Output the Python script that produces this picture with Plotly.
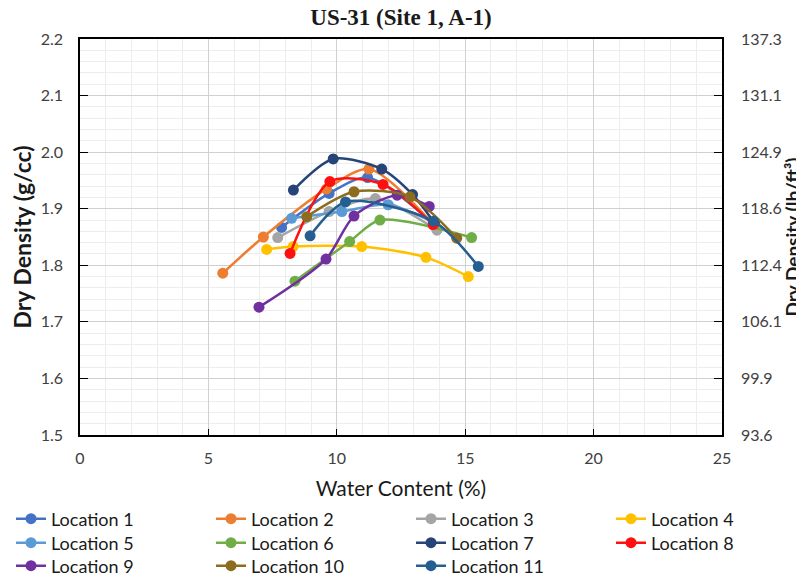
import plotly.graph_objects as go

title = "US-31 (Site 1, A-1)"
x_title = "Water Content (%)"
y_title = "Dry Density (g/cc)"
y2_title = "Dry Density (lb/ft³)"

x_ticks = [0, 5, 10, 15, 20, 25]
y_ticks = [1.5, 1.6, 1.7, 1.8, 1.9, 2.0, 2.1, 2.2]
y_tick_labels = ["1.5", "1.6", "1.7", "1.8", "1.9", "2.0", "2.1", "2.2"]
y2_tick_labels = ["93.6", "99.9", "106.1", "112.4", "118.6", "124.9", "131.1", "137.3"]

names = ["Location 1", "Location 2", "Location 3", "Location 4", "Location 5", "Location 6",
         "Location 7", "Location 8", "Location 9", "Location 10", "Location 11"]
colors = ["#4472C4", "#ED7D31", "#A5A5A5", "#FFC000", "#5B9BD5", "#70AD47",
          "#264478", "#FF1010", "#7030A0", "#8C6D1F", "#255E91"]

loc1_x = [7.85, 9.7, 11.2, 13.8]
loc1_y = [1.867, 1.927, 1.955, 1.872]
loc2_x = [5.56, 7.14, 9.6, 11.25, 13.8]
loc2_y = [1.786, 1.850, 1.935, 1.970, 1.870]
loc3_x = [7.70, 9.7, 11.5, 13.9]
loc3_y = [1.849, 1.895, 1.918, 1.862]
loc4_x = [7.27, 8.3, 10.97, 13.47, 15.12]
loc4_y = [1.828, 1.833, 1.833, 1.814, 1.780]
loc5_x = [8.24, 10.2, 12.0, 13.8]
loc5_y = [1.883, 1.895, 1.907, 1.875]
loc6_x = [8.37, 10.5, 11.68, 15.25]
loc6_y = [1.772, 1.842, 1.880, 1.849]
loc7_x = [8.31, 9.86, 11.75, 12.95, 13.8]
loc7_y = [1.933, 1.988, 1.970, 1.925, 1.875]
loc8_x = [8.18, 9.73, 11.8, 13.75]
loc8_y = [1.821, 1.948, 1.943, 1.872]
loc9_x = [6.97, 9.58, 10.67, 12.35, 13.6]
loc9_y = [1.726, 1.811, 1.887, 1.924, 1.904]
loc10_x = [8.83, 10.67, 12.85, 14.67]
loc10_y = [1.886, 1.930, 1.921, 1.848]
loc11_x = [8.96, 10.34, 13.76, 15.51]
loc11_y = [1.852, 1.912, 1.878, 1.798]

xs = [loc1_x, loc2_x, loc3_x, loc4_x, loc5_x, loc6_x, loc7_x, loc8_x, loc9_x, loc10_x, loc11_x]
ys = [loc1_y, loc2_y, loc3_y, loc4_y, loc5_y, loc6_y, loc7_y, loc8_y, loc9_y, loc10_y, loc11_y]

FONT = "Lato"
# the page body adds an 8px margin, so the figure is sized to fit the window
W, H = 796, 572

# legend grid (4 columns x 3 rows), pixel anchors of each column/row (figure coords)
legend_col_px = [3, 203, 403, 603]
legend_row_px = [511, 535, 558]

fig = go.Figure()
legend_layouts = {}
for i, (n, c, x, y) in enumerate(zip(names, colors, xs, ys)):
    lid = "legend" if i == 0 else f"legend{i + 1}"
    fig.add_trace(go.Scatter(
        x=x, y=y, name=n, mode="lines+markers", legend=lid,
        line=dict(color=c, width=2.5, shape="spline", smoothing=0.8),
        marker=dict(color=c, size=11, symbol="circle"),
    ))
    col, row = i % 4, i // 4
    legend_layouts[lid] = dict(
        xref="container", yref="container", orientation="h",
        x=legend_col_px[col] / W, xanchor="left",
        y=1 - legend_row_px[row] / H, yanchor="middle",
        font=dict(family=FONT, size=18, color="#1a1a1a"),
        bgcolor="rgba(0,0,0,0)", itemwidth=30,
    )

# invisible trace to show the secondary axis
fig.add_trace(go.Scatter(x=[x_ticks[0]], y=[y_ticks[0]], yaxis="y2", mode="markers",
                         marker=dict(opacity=0), showlegend=False, hoverinfo="skip"))

axis_font = dict(family=FONT, size=16, color="#404040")

fig.update_layout(
    width=W, height=H,
    margin=dict(l=72, r=82, t=31, b=145),
    paper_bgcolor="white", plot_bgcolor="white",
    title=dict(text="<b>" + title + "</b>", x=393 / W, xanchor="center", xref="container",
               y=1 - 1 / H, yanchor="top", yref="container",
               font=dict(family="Liberation Serif", size=23, color="#1a1a1a")),
    xaxis=dict(
        range=[x_ticks[0], x_ticks[-1]], tickvals=x_ticks, ticks="inside", ticklen=6,
        tickcolor="black", showline=True, linecolor="black", linewidth=1.5, mirror=True,
        showgrid=True, gridcolor="#D0D0D0", gridwidth=1,
        minor=dict(dtick=1, showgrid=True, gridcolor="#EDEDED", gridwidth=1),
        tickfont=axis_font, zeroline=False, automargin=False, ticklabelstandoff=8,
        title=dict(text=x_title, font=dict(family=FONT, size=21, color="#1a1a1a"), standoff=19),
    ),
    yaxis=dict(
        range=[y_ticks[0], y_ticks[-1]], tickvals=y_ticks, ticktext=y_tick_labels,
        ticks="inside", ticklen=8, tickcolor="black",
        showline=True, linecolor="black", linewidth=1.5, mirror=True,
        showgrid=True, gridcolor="#D0D0D0", gridwidth=1,
        minor=dict(dtick=0.02, showgrid=True, gridcolor="#EDEDED", gridwidth=1),
        tickfont=axis_font, zeroline=False, ticklabelstandoff=12, automargin=False,
        title=dict(text="<b>" + y_title + "</b>", font=dict(family=FONT, size=23, color="#1a1a1a"), standoff=5),
    ),
    yaxis2=dict(
        overlaying="y", side="right", range=[y_ticks[0], y_ticks[-1]],
        tickvals=y_ticks, ticktext=y2_tick_labels, ticks="inside", ticklen=8, tickcolor="black",
        showgrid=False, zeroline=False, showline=False, tickfont=axis_font,
        ticklabelstandoff=18, automargin=False,
        title=dict(text="<b>" + y2_title + "</b>", font=dict(family=FONT, size=19, color="#1a1a1a"), standoff=0),
    ),
    showlegend=True,
    **legend_layouts,
)

fig.write_html("out.html")
